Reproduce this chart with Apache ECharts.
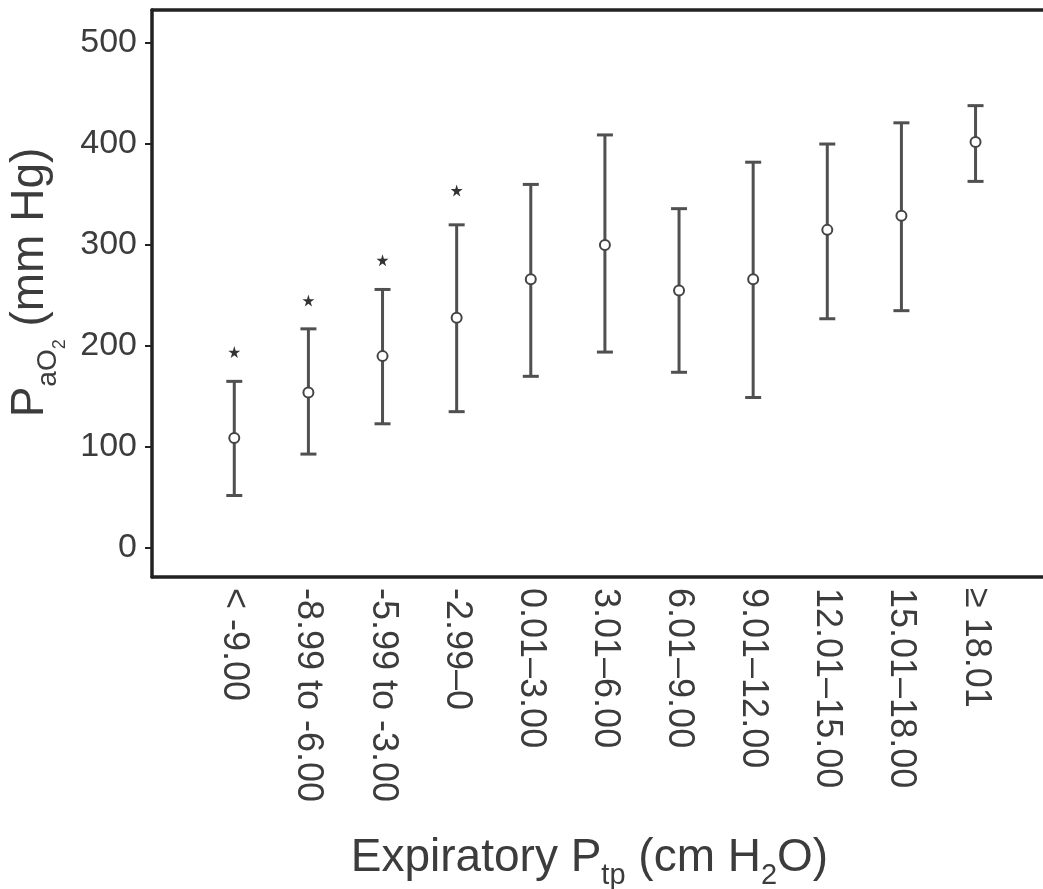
<!DOCTYPE html>
<html>
<head>
<meta charset="utf-8">
<script src="https://cdn.jsdelivr.net/npm/echarts@6/dist/echarts.min.js"></script>
<style>
html,body{margin:0;padding:0;background:#fff;overflow:hidden;}
#c{width:1043px;height:889px;}
</style>
</head>
<body>
<div id="c"></div>
<script>
// ---- data ----
const categories = ['< -9.00', '-8.99 to -6.00', '-5.99 to -3.00', '-2.99\u20130', '0.01\u20133.00', '3.01\u20136.00', '6.01\u20139.00', '9.01\u201312.00', '12.01\u201315.00', '15.01\u201318.00', '\u2265 18.01'];
const means = [109, 154, 190, 228, 266, 300, 255, 266, 315, 329, 402];
const upper = [165, 217, 256, 320, 360, 409, 336, 382, 400, 421, 438];
const lower = [52, 93, 123, 135, 170, 194, 174, 149, 227, 235, 363];
const starY = [194, 245, 285, 354];
const yTicks = [0, 100, 200, 300, 400, 500];

const idx = categories.map((_, i) => i);
const meanData = means.map((v, i) => [i, v]);
const errData = means.map((v, i) => [i, lower[i], upper[i]]);
const starData = starY.map((v, i) => [i, v]);

const axisColor = '#222';
const textColor = '#3c3c3c';
const barColor = '#505050';
const FONT = 'Liberation Sans, Arial';
const starPath = 'path://M50,0 L61,35 L98,35 L68,57 L79,91 L50,70 L21,91 L32,57 L2,35 L39,35 Z';

const chart = echarts.init(document.getElementById('c'), null, {renderer: 'canvas'});
const xMin = -1.11, xMax = 10.91;
chart.setOption({
  animation: false,
  backgroundColor: '#fff',
  grid: {left: 152, right: 0, top: 10, bottom: 312, containLabel: false, outerBoundsMode: 'none'},
  xAxis: [{
    type: 'value', min: xMin, max: xMax, position: 'bottom',
    axisLine: {show: true, onZero: false, lineStyle: {color: axisColor, width: 3.5}},
    axisTick: {show: false},
    splitLine: {show: false},
    axisLabel: {
      customValues: idx, rotate: -90, margin: 11,
      fontFamily: FONT, fontSize: 36, color: textColor,
      formatter: v => categories[Math.round(v)]
    },
    name: '{t|Expiratory P}{s|tp}{t| (cm H}{s|2}{t|O)}',
    nameLocation: 'middle', nameGap: 252,
    nameTextStyle: {
      padding: [0, 16, 0, 0],
      rich: {
        t: {fontFamily: FONT, fontSize: 46, color: textColor, lineHeight: 52, verticalAlign: 'bottom'},
        s: {fontFamily: FONT, fontSize: 29, color: textColor, lineHeight: 52, verticalAlign: 'bottom', padding: [0, 0, -9, 0]}
      }
    }
  }, {
    type: 'value', min: xMin, max: xMax, position: 'top',
    axisLine: {show: true, onZero: false, lineStyle: {color: axisColor, width: 3.5}},
    axisTick: {show: false}, axisLabel: {show: false}, splitLine: {show: false}
  }],
  yAxis: {
    type: 'value', min: -28.7, max: 532.7,
    axisLine: {show: true, onZero: false, lineStyle: {color: axisColor, width: 3.5}},
    axisTick: {show: true, customValues: yTicks, length: 7, lineStyle: {color: axisColor, width: 2}},
    splitLine: {show: false},
    axisLabel: {
      customValues: yTicks, margin: 15,
      fontFamily: FONT, fontSize: 34, color: textColor
    },
    name: '{t|P}{s|aO}{ss|2}{t| (mm Hg)}',
    nameLocation: 'middle', nameGap: 85, nameRotate: 90,
    nameTextStyle: {
      padding: [0, 0, 0, 22],
      rich: {
        t: {fontFamily: FONT, fontSize: 46, color: textColor, lineHeight: 50, verticalAlign: 'bottom'},
        s: {fontFamily: FONT, fontSize: 28, color: textColor, lineHeight: 50, verticalAlign: 'bottom', padding: [0, 0, -9, 0]},
        ss: {fontFamily: FONT, fontSize: 18, color: textColor, lineHeight: 50, verticalAlign: 'bottom', padding: [0, 0, -16, 0]}
      }
    }
  },
  series: [{
    type: 'custom',
    data: errData,
    renderItem: function (params, api) {
      const x = api.value(0);
      const lo = api.coord([x, api.value(1)]);
      const hi = api.coord([x, api.value(2)]);
      const hw = 8;
      const style = {stroke: barColor, lineWidth: 3};
      return {
        type: 'group',
        children: [
          {type: 'line', shape: {x1: lo[0], y1: lo[1], x2: hi[0], y2: hi[1]}, style: style},
          {type: 'line', shape: {x1: hi[0] - hw, y1: hi[1], x2: hi[0] + hw, y2: hi[1]}, style: style},
          {type: 'line', shape: {x1: lo[0] - hw, y1: lo[1], x2: lo[0] + hw, y2: lo[1]}, style: style}
        ]
      };
    },
    z: 2
  }, {
    type: 'scatter',
    data: meanData,
    symbol: 'circle', symbolSize: 10,
    itemStyle: {color: '#fff', borderColor: '#444', borderWidth: 2, opacity: 1},
    z: 3
  }, {
    type: 'scatter',
    data: starData,
    symbol: starPath, symbolSize: 12,
    itemStyle: {color: '#333', opacity: 1},
    z: 3
  }]
});
</script>
</body>
</html>
